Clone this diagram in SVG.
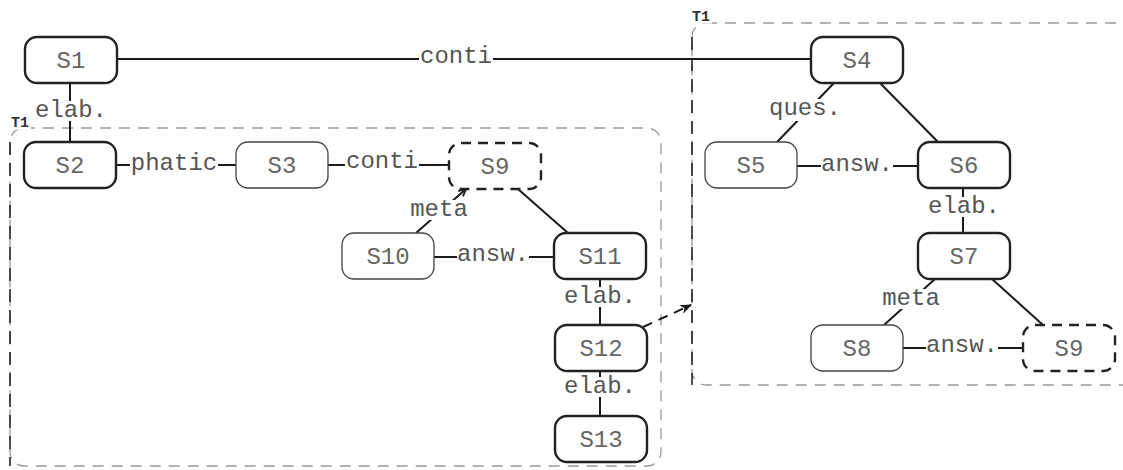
<svg xmlns="http://www.w3.org/2000/svg" width="1123" height="470" viewBox="0 0 1123 470">
<style>
.node rect{fill:#fff;stroke:#222;stroke-width:2.4}
.node.thin rect{stroke:#444;stroke-width:1.3}
.node.dash rect{stroke-dasharray:10 7}
.node text{font-family:"Liberation Mono",monospace;font-size:24px;fill:#666;text-anchor:middle}
.edge{stroke:#1a1a1a;stroke-width:2;fill:none}
.bg{fill:#fff}
.lbl{font-family:"Liberation Mono",monospace;font-size:24px;fill:#555;text-anchor:middle}
.grp{fill:none;stroke:#999;stroke-width:1.3;stroke-dasharray:11 8}
.grpl{fill:none;stroke:#222;stroke-width:1.6;stroke-dasharray:13 8}
.t1{font-family:"Liberation Mono",monospace;font-size:15px;font-weight:bold;fill:#333;stroke:#fff;stroke-width:5;paint-order:stroke}
</style>
<defs>
<marker id="open" viewBox="0 0 10 10" refX="9" refY="5" markerWidth="9" markerHeight="9" orient="auto" markerUnits="userSpaceOnUse">
<path d="M1,1 L9,5 L1,9" fill="none" stroke="#1a1a1a" stroke-width="2"/>
</marker>
<marker id="fill" viewBox="0 0 10 10" refX="9" refY="5" markerWidth="12" markerHeight="12" orient="auto" markerUnits="userSpaceOnUse">
<path d="M0,1 L10,5 L0,9 L3,5 Z" fill="#1a1a1a"/>
</marker>
</defs>

<g id="groups">
<rect class="grp" x="10" y="128" width="651" height="338" rx="14"/>
<path class="grpl" d="M10,142 L10,466"/>
<text class="t1" x="11" y="127">T1</text>
<rect class="grp" x="692" y="23" width="450" height="362" rx="14"/>
<path class="grpl" d="M692,37 L692,385"/>
<text class="t1" x="692" y="21">T1</text>
</g>

<g id="connectors">
<line class="edge" x1="117" y1="59" x2="811" y2="59"/>
<line class="edge" x1="70" y1="82" x2="70" y2="142"/>
<line class="edge" x1="116" y1="165" x2="236" y2="165"/>
<line class="edge" x1="328" y1="165" x2="449" y2="165"/>
<line class="edge" x1="416" y1="233" x2="466" y2="189" marker-end="url(#open)"/>
<line class="edge" x1="518" y1="189" x2="568" y2="233"/>
<line class="edge" x1="434" y1="257" x2="554" y2="257"/>
<line class="edge" x1="600" y1="279" x2="600" y2="325"/>
<line class="edge" x1="600" y1="371" x2="600" y2="416"/>
<line class="edge" x1="643" y1="327" x2="691" y2="305" stroke-dasharray="10 7" marker-end="url(#fill)"/>
<line class="edge" x1="834" y1="83" x2="777" y2="142"/>
<line class="edge" x1="880" y1="83" x2="938" y2="142"/>
<line class="edge" x1="797" y1="166" x2="918" y2="166"/>
<line class="edge" x1="963" y1="188" x2="963" y2="233"/>
<line class="edge" x1="935" y1="279" x2="884" y2="325"/>
<line class="edge" x1="992" y1="279" x2="1043" y2="325"/>
<line class="edge" x1="903" y1="348" x2="1023" y2="348"/>
<rect class="bg" x="419" y="48" width="74" height="20"/>
<rect class="bg" x="35" y="101" width="72" height="20"/>
<rect class="bg" x="130" y="153" width="88" height="20"/>
<rect class="bg" x="345" y="156" width="74" height="17"/>
<rect class="bg" x="409" y="200" width="60" height="20"/>
<rect class="bg" x="457" y="248" width="72" height="16"/>
<rect class="bg" x="564" y="287" width="72" height="20"/>
<rect class="bg" x="564" y="377" width="72" height="20"/>
<rect class="bg" x="769" y="99" width="72" height="22"/>
<rect class="bg" x="821" y="158" width="72" height="17"/>
<rect class="bg" x="928" y="197" width="72" height="20"/>
<rect class="bg" x="881" y="289" width="60" height="20"/>
<rect class="bg" x="926" y="339" width="72" height="17"/>
<text class="lbl" x="456" y="63">conti</text>
<text class="lbl" x="71" y="117">elab.</text>
<text class="lbl" x="174" y="170">phatic</text>
<text class="lbl" x="382" y="168">conti</text>
<text class="lbl" x="439" y="216">meta</text>
<text class="lbl" x="493" y="261">answ.</text>
<text class="lbl" x="600" y="303">elab.</text>
<text class="lbl" x="600" y="393">elab.</text>
<text class="lbl" x="805" y="115">ques.</text>
<text class="lbl" x="857" y="171">answ.</text>
<text class="lbl" x="964" y="213">elab.</text>
<text class="lbl" x="911" y="305">meta</text>
<text class="lbl" x="962" y="352">answ.</text>
</g>

<g id="S1" class="node"><rect x="25" y="37" width="92" height="46" rx="12"/><text x="71" y="68">S1</text></g>
<g id="S2" class="node"><rect x="24" y="142" width="92" height="46" rx="12"/><text x="70" y="173">S2</text></g>
<g id="S3" class="node thin"><rect x="236" y="142" width="92" height="46" rx="12"/><text x="282" y="173">S3</text></g>
<g id="S9a" class="node dash"><rect x="449" y="143" width="92" height="46" rx="12"/><text x="495" y="174">S9</text></g>
<g id="S10" class="node thin"><rect x="342" y="233" width="92" height="46" rx="12"/><text x="388" y="264">S10</text></g>
<g id="S11" class="node"><rect x="554" y="233" width="92" height="46" rx="12"/><text x="600" y="264">S11</text></g>
<g id="S12" class="node"><rect x="555" y="325" width="92" height="46" rx="12"/><text x="601" y="356">S12</text></g>
<g id="S13" class="node"><rect x="555" y="416" width="92" height="46" rx="12"/><text x="601" y="447">S13</text></g>
<g id="S4" class="node"><rect x="811" y="37" width="92" height="46" rx="12"/><text x="857" y="68">S4</text></g>
<g id="S5" class="node thin"><rect x="705" y="142" width="92" height="46" rx="12"/><text x="751" y="173">S5</text></g>
<g id="S6" class="node"><rect x="918" y="142" width="92" height="46" rx="12"/><text x="964" y="173">S6</text></g>
<g id="S7" class="node"><rect x="918" y="233" width="92" height="46" rx="12"/><text x="964" y="264">S7</text></g>
<g id="S8" class="node thin"><rect x="811" y="325" width="92" height="46" rx="12"/><text x="857" y="356">S8</text></g>
<g id="S9b" class="node dash"><rect x="1023" y="325" width="92" height="46" rx="12"/><text x="1069" y="356">S9</text></g>
</svg>
